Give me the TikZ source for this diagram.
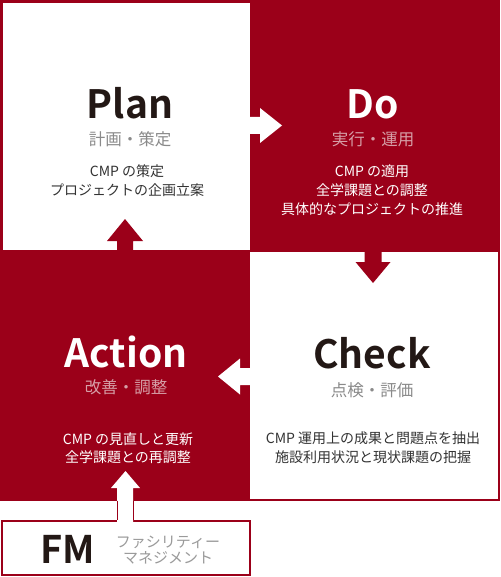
\documentclass[tikz,border=0pt]{standalone}
\usepackage{fontspec}
\setmainfont{Noto Sans CJK JP}[BoldFont=* Bold]
\definecolor{pdcared}{RGB}{155,0,25}
\definecolor{inkdark}{HTML}{231815}
\definecolor{inkbody}{HTML}{333333}
\definecolor{subgray}{HTML}{8A8A8A}
\definecolor{subpink}{RGB}{214,158,166}
\definecolor{fmgray}{HTML}{9A9A9A}
\tikzstyle{every node}=[inner sep=0pt,outer sep=0pt]
\tikzstyle{quad}=[rectangle,anchor=north west]
\tikzstyle{title}=[anchor=base,font=\fontsize{39}{39}\selectfont\bfseries]
\tikzstyle{subtitle}=[anchor=base,font=\fontsize{16.5}{17}\selectfont]
% multi-line nodes: base is the baseline of the last line
\tikzstyle{body}=[anchor=base,align=center,font=\fontsize{14}{18.5}\selectfont]

\begin{document}
\begin{tikzpicture}[x=1pt,y=-1pt]
  \useasboundingbox (0,0) rectangle (500,577);
  % red ground, white quadrants on top
  \fill[pdcared] (0,0) rectangle (500,500.5);
  \node[quad,fill=white,minimum width=247pt,minimum height=247pt] (plan) at (3,3) {};
  \node[quad,fill=white,minimum width=247.5pt,minimum height=246.5pt] (check) at (250,252) {};

  % cycle arrows
  \fill[white] (245,117) -- (260,117) -- (260,108) -- (282,125.5)
    -- (260,143) -- (260,134) -- (245,134) -- cycle;
  \fill[pdcared] (364.5,245) -- (364.5,262) -- (355.5,262) -- (373,283)
    -- (390.5,262) -- (381.5,262) -- (381.5,245) -- cycle;
  \fill[white] (255,368) -- (240,368) -- (240,358.5) -- (218,376.5)
    -- (240,394.5) -- (240,385) -- (255,385) -- cycle;
  \fill[pdcared] (117,256) -- (117,241) -- (107,241) -- (125,219)
    -- (143,241) -- (133,241) -- (133,256) -- cycle;

  % Plan
  \node[title,text=inkdark] (plant) at (130,119) {Plan};
  \node[subtitle,text=subgray] (plans) at (130,146) {計画・策定};
  \node[body,text=inkbody] (planb) at (127,195.5) {CMP の策定\\プロジェクトの企画立案};
  % Do
  \node[title,text=white] (dot) at (373,119) {Do};
  \node[subtitle,text=subpink] (dos) at (373,146) {実行・運用};
  \node[body,text=white] (dob) at (372,214) {CMP の適用\\全学課題との調整\\具体的なプロジェクトの推進};
  % Check
  \node[title,text=inkdark] (checkt) at (372,368) {Check};
  \node[subtitle,text=subgray] (checks) at (372,396) {点検・評価};
  \node[body,text=inkbody] (checkb) at (373,462) {CMP 運用上の成果と問題点を抽出\\施設利用状況と現状課題の把握};
  % Action
  \node[title,text=white] (actiont) at (126,367) {Action};
  \node[subtitle,text=subpink] (actions) at (126,393) {改善・調整};
  \node[body,text=white] (actionb) at (128,462.5) {CMP の見直しと更新\\全学課題との再調整};

  % FM box and its arrow
  \node[quad,draw=pdcared,line width=2pt,fill=white,minimum width=248.5pt,minimum height=54pt] (fm) at (1.5,521) {};
  \node[anchor=base,text=inkdark,font=\fontsize{38}{38}\selectfont\bfseries] (fmt) at (67.5,563) {FM};
  \node[anchor=base,align=center,text=fmgray,font=\fontsize{15}{16}\selectfont] (fms) at (168,563.5) {ファシリティー\\マネジメント};
  \fill[white] (117,523) -- (117,488) -- (111,488) -- (125.5,471)
    -- (140,488) -- (133,488) -- (133,523) -- cycle;
  \draw[pdcared,line width=0.6pt] (117,500.5) -- (117,520) (133,500.5) -- (133,520);
\end{tikzpicture}
\end{document}
